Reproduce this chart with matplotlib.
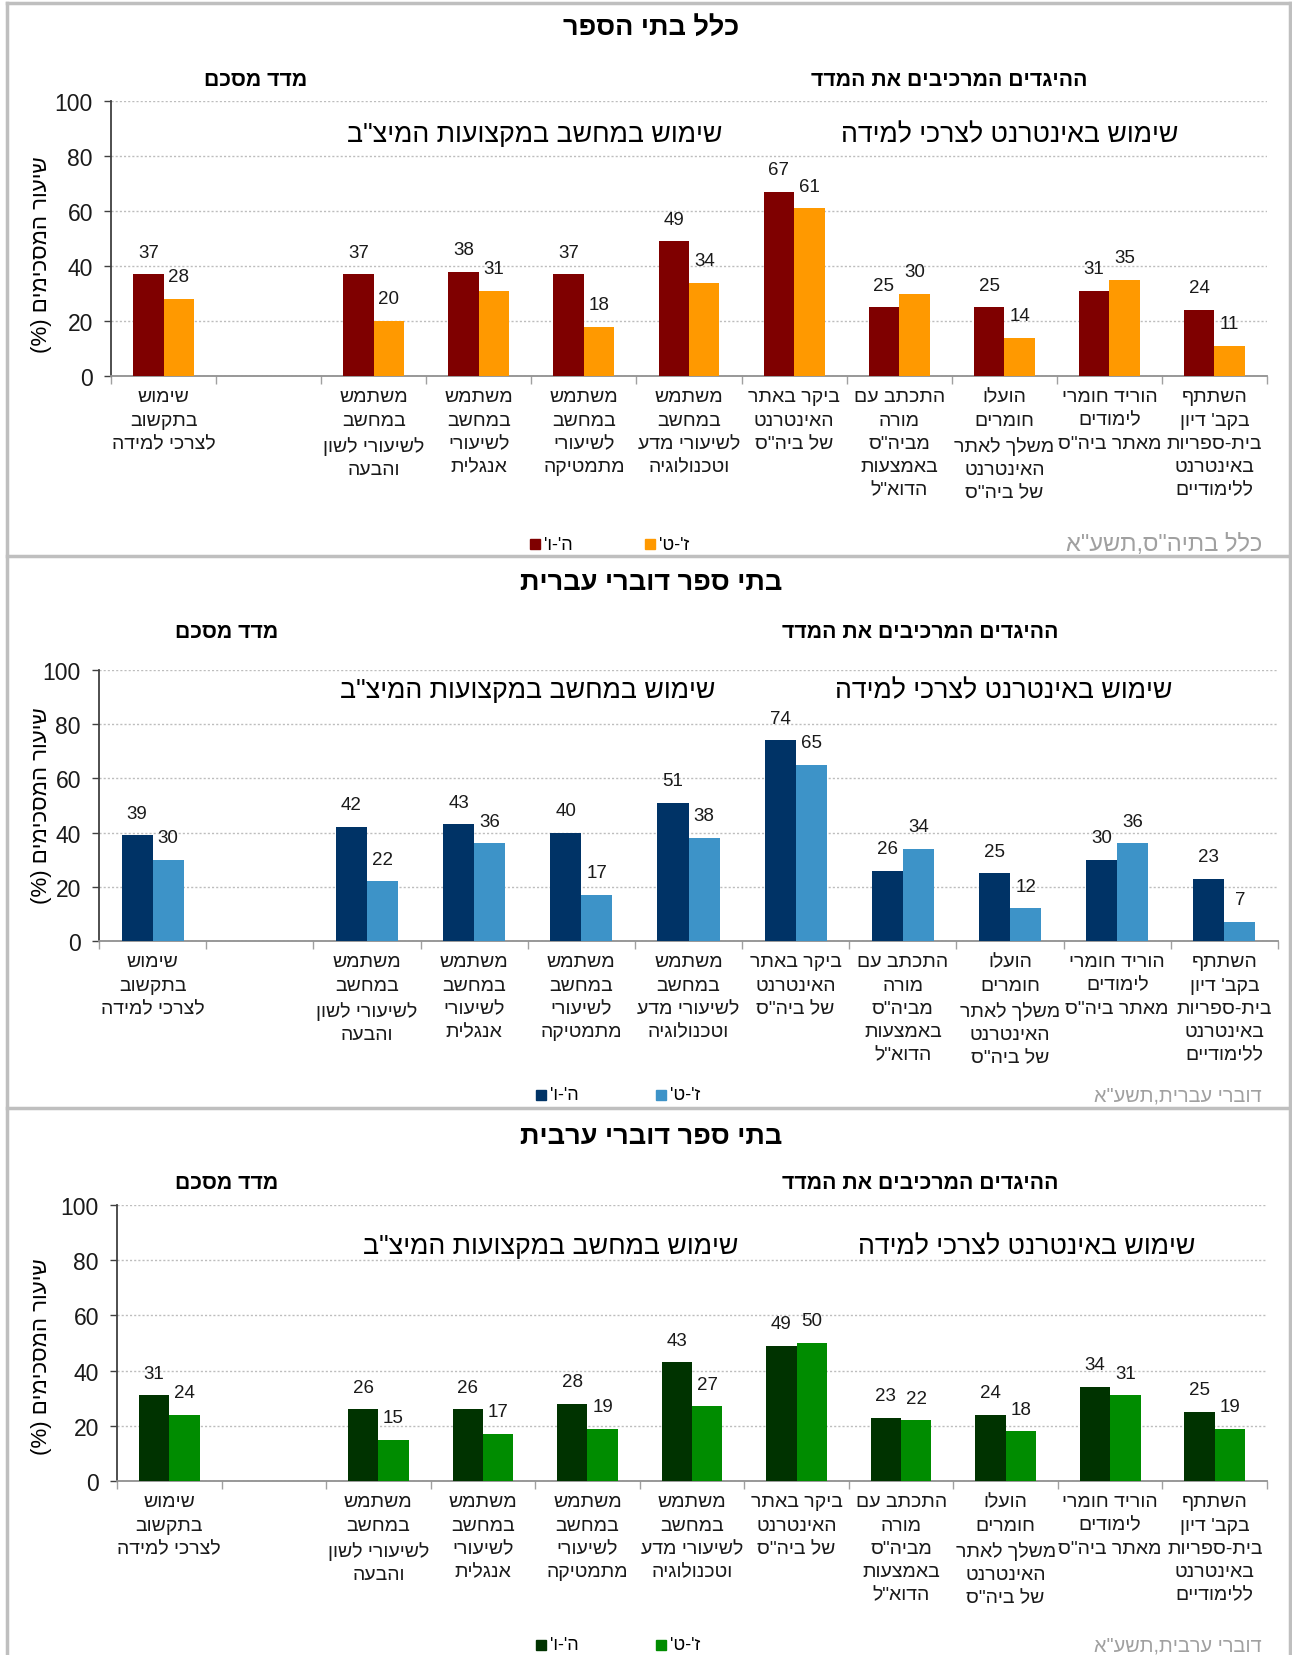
import matplotlib
matplotlib.use('Agg')
import numpy as np
import matplotlib.pyplot as plt
from matplotlib.patches import Rectangle
from matplotlib.lines import Line2D

plt.rcParams['font.family'] = ['Liberation Sans', 'DejaVu Sans']

W, H = 1292, 1656

# ---------------- data ----------------
categories = [
    "שימוש\nבתקשוב\nלצרכי למידה",
    "",
    "משתמש\nבמחשב\nלשיעורי לשון\nוהבעה",
    "משתמש\nבמחשב\nלשיעורי\nאנגלית",
    "משתמש\nבמחשב\nלשיעורי\nמתמטיקה",
    "משתמש\nבמחשב\nלשיעורי מדע\nוטכנולוגיה",
    "ביקר באתר\nהאינטרנט\nשל ביה\"ס",
    "התכתב עם\nמורה\nמביה\"ס\nבאמצעות\nהדוא\"ל",
    "הועלו\nחומרים\nמשלך לאתר\nהאינטרנט\nשל ביה\"ס",
    "הוריד חומרי\nלימודים\nמאתר ביה\"ס",
    "השתתף\nבקב' דיון\nבית-ספריות\nבאינטרנט\nללימודיים",
]
series_names = ["ה'-ו'", "ז'-ט'"]
panel_titles = ["כלל בתי הספר", "בתי ספר דוברי עברית", "בתי ספר דוברי ערבית"]
captions = ['כלל בתיה"ס,תשע"א', 'דוברי עברית,תשע"א', 'דוברי ערבית,תשע"א']
summary_heading = "מדד מסכם"
items_heading = "ההיגדים המרכיבים את המדד"
group_computer = 'שימוש במחשב במקצועות המיצ"ב'
group_internet = "שימוש באינטרנט לצרכי למידה"
y_label = "שיעור המסכימים (%)"
y_ticks = [0, 20, 40, 60, 80, 100]

nan = np.nan
all_g56 = [37, nan, 37, 38, 37, 49, 67, 25, 25, 31, 24]
all_g79 = [28, nan, 20, 31, 18, 34, 61, 30, 14, 35, 11]
heb_g56 = [39, nan, 42, 43, 40, 51, 74, 26, 25, 30, 23]
heb_g79 = [30, nan, 22, 36, 17, 38, 65, 34, 12, 36, 7]
arb_g56 = [31, nan, 26, 26, 28, 43, 49, 23, 24, 34, 25]
arb_g79 = [24, nan, 15, 17, 19, 27, 50, 22, 18, 31, 19]

colors = [("#7F0000", "#FF9900"), ("#003366", "#3D93C8"), ("#003300", "#008C00")]


def rtl(s):
    tr = str.maketrans("()", ")(")
    return "\n".join(line[::-1].translate(tr) for line in s.split("\n"))


fig = plt.figure(figsize=(W / 100, H / 100), dpi=100)


def fx(x):
    return x / W


def fy(y):
    return 1 - y / H


# panel layout (pixels)
panels = [
    dict(ax=(111, 1267, 102, 377), title_y=28, sub_y=80, sub_x=(256, 949), grp_y=135, grp_x=(535, 1010),
         ylab=(42, 255), leg_y=545, leg_x=(535, 650), cap_x=1262, cap_fs=17),
    dict(ax=(99, 1278, 671, 942), title_y=583, sub_y=633, sub_x=(227, 920), grp_y=691, grp_x=(528, 1004),
         ylab=(42, 806), leg_y=1096, leg_x=(541, 661), cap_x=1262, cap_fs=14.3),
    dict(ax=(117, 1267, 1206, 1482), title_y=1137, sub_y=1184, sub_x=(227, 920), grp_y=1247, grp_x=(551, 1027),
         ylab=(42, 1357), leg_y=1646, leg_x=(541, 661), cap_x=1262, cap_fs=14.3),
]
data = [(all_g56, all_g79), (heb_g56, heb_g79), (arb_g56, arb_g79)]

# panel borders
border = "#BFBFBF"
for y in [4, 557, 1109]:
    fig.add_artist(Line2D([fx(7), fx(1290)], [fy(y), fy(y)], color=border, lw=2.5))
fig.add_artist(Line2D([fx(7), fx(7)], [fy(4), fy(1656)], color=border, lw=2.5))
fig.add_artist(Line2D([fx(1290), fx(1290)], [fy(4), fy(1656)], color=border, lw=2.5))

x = np.arange(len(categories))
bw = 0.29

for p, (g56, g79), (c1, c2), title, cap in zip(panels, data, colors, panel_titles, captions):
    l, r, t, b = p["ax"]
    ax = fig.add_axes([fx(l), fy(b), fx(r) - fx(l), fy(t) - fy(b)])
    v1 = np.array(g56, dtype=float)
    v2 = np.array(g79, dtype=float)
    ax.bar(x - bw / 2, v1, bw, color=c1, zorder=3)
    ax.bar(x + bw / 2, v2, bw, color=c2, zorder=3)
    for xi, a, bb in zip(x, v1, v2):
        if not np.isnan(a):
            ax.annotate(f"{int(a)}", (xi - bw / 2, a), xytext=(0, 16), textcoords="offset points",
                        ha="center", va="center", fontsize=13.5, color="#1a1a1a")
        if not np.isnan(bb):
            ax.annotate(f"{int(bb)}", (xi + bw / 2, bb), xytext=(0, 16), textcoords="offset points",
                        ha="center", va="center", fontsize=13.5, color="#1a1a1a")
    ax.set_xlim(-0.5, len(categories) - 0.5)
    ax.set_ylim(0, 100)
    ax.set_yticks(y_ticks)
    ax.set_yticklabels([str(v) for v in y_ticks], fontsize=16.5, color="#1a1a1a")
    ax.tick_params(axis="y", length=5, width=1, color="#404040", pad=8)
    ax.set_xticks(x)
    ax.set_xticklabels([rtl(c) for c in categories], fontsize=14, linespacing=1.47,
                       va="top", ha="center", color="#1a1a1a")
    ax.tick_params(axis="x", which="major", length=0, pad=9)
    ax.set_xticks(np.arange(len(categories) + 1) - 0.5, minor=True)
    ax.tick_params(axis="x", which="minor", length=6, width=1, color="#A0A0A0")
    ax.grid(axis="y", color="#BDBDBD", linestyle=(0, (1.5, 1.5)), lw=1, zorder=0)
    for s in ["top", "right"]:
        ax.spines[s].set_visible(False)
    ax.spines["left"].set_color("#404040")
    ax.spines["left"].set_linewidth(1.3)
    ax.spines["bottom"].set_color("#909090")
    ax.spines["bottom"].set_linewidth(1.3)

    fig.text(fx(651), fy(p["title_y"]), rtl(title), ha="center", va="center", fontsize=19.5, fontweight="bold")
    fig.text(fx(p["sub_x"][0]), fy(p["sub_y"]), rtl(summary_heading), ha="center", va="center",
             fontsize=15.3, fontweight="bold")
    fig.text(fx(p["sub_x"][1]), fy(p["sub_y"]), rtl(items_heading), ha="center", va="center",
             fontsize=15.3, fontweight="bold")
    fig.text(fx(p["grp_x"][0]), fy(p["grp_y"]), rtl(group_computer), ha="center", va="center", fontsize=19.3)
    fig.text(fx(p["grp_x"][1]), fy(p["grp_y"]), rtl(group_internet), ha="center", va="center", fontsize=19.3)
    fig.text(fx(p["ylab"][0]), fy(p["ylab"][1]), rtl(y_label), ha="center", va="center", rotation=90,
             fontsize=16)

    # legend
    for lx, col, name in zip(p["leg_x"], (c1, c2), series_names):
        fig.add_artist(Rectangle((fx(lx - 5), fy(p["leg_y"] + 5)), 10 / W, 10 / H, color=col))
        fig.text(fx(lx + 9), fy(p["leg_y"]), rtl(name), ha="left", va="center", fontsize=13)
    fig.text(fx(p["cap_x"]), fy(p["leg_y"]), rtl(cap), ha="right", va="center", fontsize=p["cap_fs"],
             color="#A0A0A0")

fig.savefig("out.png", dpi=100)
